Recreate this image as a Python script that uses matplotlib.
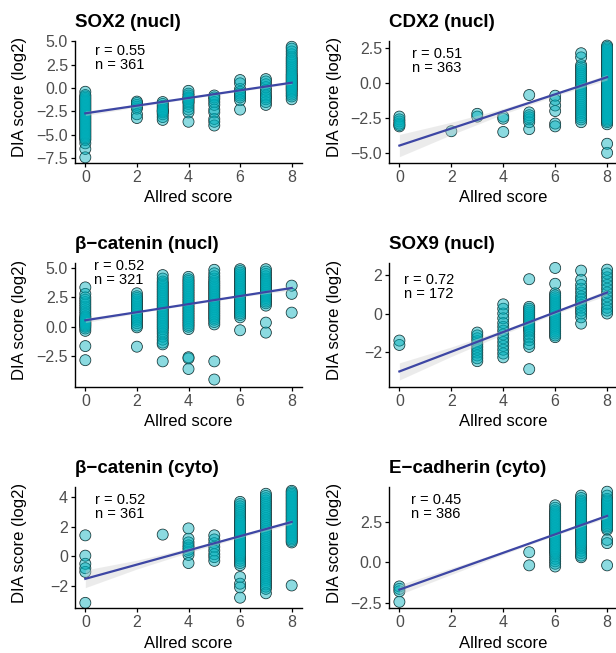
import numpy as np
import matplotlib
matplotlib.use("Agg")
import matplotlib.pyplot as plt

plt.rcParams['font.family'] = ['Liberation Sans', 'DejaVu Sans']

# ---- data (Allred score -> DIA score log2) ----
sox2_pts = {
    0: [-0.4, -0.75, -0.9, -1.05, -1.2, -1.35, -1.5, -1.65, -1.8, -1.95, -2.1, -2.25, -2.4,
        -2.55, -2.7, -2.85, -3.0, -3.15, -3.3, -3.45, -3.6, -3.75, -3.9, -4.05, -4.2, -4.35,
        -4.5, -4.65, -4.8, -4.95, -5.1, -5.25, -5.4, -5.55, -5.9, -6.5, -7.4],
    2: [-1.45, -1.6, -1.8, -2.0, -2.2, -2.8, -3.2],
    3: [-1.5, -1.7, -1.9, -2.1, -2.3, -2.4, -2.5, -2.6, -2.8, -3.1, -3.4],
    4: [-0.3, -0.6, -0.8, -1.0, -1.1, -1.2, -1.4, -1.5, -1.7, -2.0, -2.3, -2.6, -3.6],
    5: [-0.8, -1.0, -1.2, -1.5, -1.8, -2.3, -2.6, -3.3, -3.6, -4.0],
    6: [0.85, 0.5, -0.1, -0.4, -0.6, -0.8, -1.0, -1.3, -2.3],
    7: [0.95, 0.7, 0.4, 0.1, -0.2, -0.5, -0.8, -1.0, -1.2, -1.5, -1.8],
    8: [4.4, 4.2, 3.9, 3.6, 3.3, 3.1, 2.9, 2.7, 2.5, 2.3, 2.1, 1.9, 1.7, 1.5, 1.35, 1.2,
        1.05, 0.9, 0.75, 0.6, 0.45, 0.3, 0.15, 0.0, -0.15, -0.3, -0.5, -0.7, -0.9, -1.2],
}
cdx2_pts = {
    0: [-2.4, -2.6, -2.75, -2.9, -3.0, -3.1],
    2: [-3.45],
    3: [-2.2, -2.4],
    4: [-2.4, -2.55, -3.5],
    5: [-0.85, -2.1, -2.3, -2.45, -2.6, -2.8, -3.3],
    6: [-0.9, -1.2, -1.6, -2.0, -2.9, -3.1],
    7: [2.15, 1.85, 1.3, 1.15, 1.0, 0.85, 0.7, 0.55, 0.4, 0.25, 0.1, -0.05, -0.2, -0.35,
        -0.5, -0.65, -0.8, -0.95, -1.1, -1.25, -1.4, -1.55, -1.7, -1.85, -2.0, -2.15, -2.3,
        -2.45, -2.6, -2.8],
    8: [2.7, 2.6, 2.5, 2.4, 2.3, 2.2, 2.1, 2.0, 1.9, 1.8, 1.7, 1.6, 1.5, 1.4, 1.3, 1.2,
        1.1, 1.0, 0.9, 0.8, 0.7, 0.6, 0.5, 0.4, 0.3, 0.2, 0.1, 0.0, -0.1, -0.2, -0.3, -0.4,
        -0.5, -0.6, -0.7, -0.8, -0.9, -1.0, -1.1, -1.2, -1.3, -1.4, -1.5, -1.6, -1.7, -1.8,
        -1.9, -2.0, -2.1, -2.2, -2.3, -2.4, -2.5, -2.6, -2.7, -2.8, -2.95, -4.35, -5.0],
}
bcat_nucl_pts = {
    0: [3.35, 2.8, 2.5, 2.3, 2.1, 1.9, 1.7, 1.5, 1.3, 1.1, 0.9, 0.8, 0.7, 0.6, 0.5, 0.4,
        0.3, 0.2, 0.1, 0.0, -0.15, -0.35, -1.65, -2.85],
    2: [2.85, 2.6, 2.45, 2.3, 2.15, 2.0, 1.85, 1.7, 1.55, 1.4, 1.25, 1.1, 0.95, 0.8, 0.65,
        0.5, 0.3, 0.1, -0.05, -1.7],
    3: [4.4, 4.1, 3.85, 3.7, 3.55, 3.4, 3.25, 3.1, 2.95, 2.8, 2.65, 2.5, 2.35, 2.2, 2.05,
        1.9, 1.75, 1.6, 1.45, 1.3, 1.15, 1.0, 0.85, 0.7, 0.55, 0.4, 0.25, 0.1, -0.05, -0.2,
        -0.4, -0.6, -0.85, -1.1, -1.35, -1.5, -2.95],
    4: [4.25, 4.05, 3.9, 3.75, 3.6, 3.45, 3.3, 3.15, 3.0, 2.85, 2.7, 2.55, 2.4, 2.25, 2.1,
        1.95, 1.8, 1.65, 1.5, 1.35, 1.2, 1.05, 0.9, 0.75, 0.6, 0.45, 0.3, 0.15, 0.0, -0.2,
        -2.6, -2.7, -3.6],
    5: [4.85, 4.55, 4.3, 4.1, 3.9, 3.75, 3.6, 3.45, 3.3, 3.15, 3.0, 2.85, 2.7, 2.55, 2.4,
        2.25, 2.1, 1.95, 1.8, 1.65, 1.5, 1.35, 1.2, 1.05, 0.9, 0.75, 0.6, 0.4, 0.2, -2.95,
        -4.5],
    6: [4.9, 4.75, 4.6, 4.45, 4.3, 4.15, 4.0, 3.85, 3.7, 3.55, 3.4, 3.25, 3.1, 2.95, 2.8,
        2.65, 2.5, 2.35, 2.2, 2.05, 1.9, 1.75, 1.6, 1.45, 1.3, 1.15, 1.0, 0.8, -0.3],
    7: [4.9, 4.7, 4.5, 4.3, 4.1, 3.95, 3.8, 3.65, 3.5, 3.35, 3.2, 3.05, 2.9, 2.75, 2.6,
        2.45, 2.3, 2.15, 2.0, 1.8, 0.35, -0.5],
    8: [3.5, 2.8, 1.2],
}
sox9_pts = {
    0: [-1.42, -1.65],
    3: [-1.0, -1.15, -1.3, -1.45, -1.6, -1.75, -1.9, -2.05, -2.2, -2.35, -2.5],
    4: [0.48, 0.25, 0.0, -0.25, -0.5, -0.7, -0.9, -1.1, -1.3, -1.5, -1.7, -1.9, -2.1, -2.3],
    5: [1.8, 0.35, 0.25, 0.15, 0.05, -0.05, -0.15, -0.25, -0.35, -0.45, -0.55, -0.65, -0.75,
        -0.85, -0.95, -1.1, -1.25, -1.4, -1.6, -1.75, -2.92],
    6: [2.39, 1.56, 1.06, 0.95, 0.85, 0.75, 0.65, 0.55, 0.45, 0.35, 0.25, 0.15, 0.05, -0.05,
        -0.15, -0.25, -0.35, -0.45, -0.55, -0.65, -0.75, -0.85, -0.95, -1.05, -1.15, -1.24],
    7: [2.25, 1.77, 1.5, 1.3, 1.1, 0.9, 0.75, 0.6, 0.45, 0.3, 0.15, 0.0, -0.2, -0.53],
    8: [2.3, 2.1, 1.9, 1.7, 1.5, 1.3, 1.1, 0.9, 0.7, 0.5, 0.3, 0.15, 0.0],
}
bcat_cyto_pts = {
    0: [1.43, 0.05, -0.5, -0.8, -1.05, -3.15],
    3: [1.48],
    4: [1.9, 1.2, 0.95, 0.75, 0.6, 0.45, 0.3, 0.1, -0.45],
    5: [1.43, 1.15, 0.9, 0.65, 0.4, 0.15, -0.05, -0.3],
    6: [3.7, 3.55, 3.4, 3.25, 3.1, 2.95, 2.8, 2.65, 2.5, 2.4, 2.3, 2.2, 2.1, 2.0, 1.9, 1.8,
        1.7, 1.6, 1.5, 1.4, 1.3, 1.2, 1.1, 1.0, 0.9, 0.8, 0.7, 0.6, 0.5, 0.4, 0.3, 0.2, 0.1,
        0.0, -0.15, -0.3, -0.45, -0.6, -1.4, -1.85, -2.1, -2.8],
    7: [4.25, 4.1, 3.95, 3.8, 3.65, 3.5, 3.35, 3.2, 3.05, 2.9, 2.75, 2.6, 2.45, 2.3, 2.15,
        2.0, 1.85, 1.7, 1.55, 1.4, 1.25, 1.1, 0.95, 0.8, 0.65, 0.5, 0.35, 0.2, 0.05, -0.1,
        -0.25, -0.4, -0.55, -0.7, -0.85, -1.0, -1.15, -1.3, -1.45, -1.6, -1.75, -1.9, -2.05,
        -2.2, -2.5],
    8: [4.45, 4.35, 4.25, 4.15, 4.05, 3.95, 3.85, 3.75, 3.65, 3.55, 3.45, 3.35, 3.25, 3.15,
        3.05, 2.95, 2.85, 2.75, 2.65, 2.55, 2.45, 2.35, 2.25, 2.15, 2.05, 1.95, 1.85, 1.75,
        1.65, 1.55, 1.45, 1.35, 1.25, 1.15, 1.05, 0.95, -1.97],
}
ecad_pts = {
    0: [-1.5, -1.65, -1.8, -2.45],
    5: [0.61, -0.2],
    6: [3.5, 3.35, 3.2, 3.1, 3.0, 2.9, 2.8, 2.7, 2.6, 2.5, 2.4, 2.3, 2.2, 2.1, 2.0, 1.9,
        1.8, 1.7, 1.6, 1.5, 1.4, 1.3, 1.2, 1.1, 1.0, 0.9, 0.8, 0.7, 0.6, 0.5, 0.35, 0.2,
        0.05, -0.1, -0.27],
    7: [4.1, 3.95, 3.8, 3.7, 3.6, 3.5, 3.4, 3.3, 3.2, 3.1, 3.0, 2.9, 2.8, 2.7, 2.6, 2.5,
        2.4, 2.3, 2.2, 2.1, 2.0, 1.9, 1.8, 1.7, 1.6, 1.5, 1.4, 1.3, 1.2, 1.1, 1.0, 0.85,
        0.7, 0.55, 0.4, 0.3],
    8: [4.34, 4.1, 3.9, 3.8, 3.7, 3.6, 3.5, 3.4, 3.3, 3.2, 3.1, 3.0, 2.9, 2.8, 2.7, 2.6,
        2.5, 2.4, 2.3, 2.2, 2.1, 2.0, 1.37, 1.17, -0.2],
}

titles = ['SOX2 (nucl)', 'CDX2 (nucl)', 'β\u2212catenin (nucl)', 'SOX9 (nucl)',
          'β\u2212catenin (cyto)', 'E\u2212cadherin (cyto)']
r_values = ['0.55', '0.51', '0.52', '0.72', '0.52', '0.45']
n_values = ['361', '363', '321', '172', '361', '386']
# linear fit read at Allred 0 and 8, and CI half-width at Allred 0, 2, 4, 6, 8
fit_ends = [[-2.7, 0.57], [-4.48, 0.43], [0.55, 3.3], [-3.04, 1.1], [-1.52, 2.34], [-1.7, 2.85]]
band_x = [0, 2, 4, 6, 8]
band_half = [[0.25, 0.15, 0.1, 0.1, 0.15], [0.8, 0.45, 0.2, 0.12, 0.2],
             [0.2, 0.1, 0.07, 0.08, 0.2], [0.45, 0.25, 0.12, 0.08, 0.15],
             [0.6, 0.3, 0.15, 0.1, 0.15], [0.3, 0.2, 0.1, 0.07, 0.12]]
yticks = [[-7.5, -5.0, -2.5, 0.0, 2.5, 5.0], [-5.0, -2.5, 0.0, 2.5], [-2.5, 0.0, 2.5, 5.0],
          [-2, 0, 2], [-2, 0, 2, 4], [-2.5, 0.0, 2.5]]
xticks = [0, 2, 4, 6, 8]
all_pts = [sox2_pts, cdx2_pts, bcat_nucl_pts, sox9_pts, bcat_cyto_pts, ecad_pts]

# ---- layout (pixels of the 616x653 picture) ----
W, H = 616, 653
ylims = [(-7.97, 5.05), (-5.71, 3.05), (-5.11, 5.43), (-3.84, 2.65), (-3.5, 4.73), (-2.83, 4.65)]
col_left = [75, 389]
col_width = [227, 228.5]
row_top = [40.7, 263, 486.7]
row_bot = [162.7, 386.7, 608]
ann_pos = [(0.088, 0.975), (0.1, 0.95), (0.085, 1.03), (0.065, 0.92), (0.088, 0.945), (0.095, 0.945)]

fig = plt.figure(figsize=(W / 100, H / 100), dpi=100)

for i in range(6):
    r, c = divmod(i, 2)
    h = row_bot[r] - row_top[r]
    ax = fig.add_axes([col_left[c] / W, 1 - row_bot[r] / H, col_width[c] / W, h / H])
    pts = all_pts[i]
    xs = np.concatenate([[k] * len(v) for k, v in pts.items()])
    ys = np.concatenate([v for v in pts.values()])

    fx = np.array([0, 8])
    fy = np.array(fit_ends[i])
    bx = np.array(band_x)
    by = np.interp(bx, fx, fy)
    bh = np.array(band_half[i])

    # outlines first, then translucent fills on top (dense stacks read as solid)
    ax.scatter(xs, ys, s=62, facecolors='none', edgecolors='#1e1e1e',
               linewidths=0.6, zorder=2, clip_on=False)
    ax.scatter(xs, ys, s=62, facecolors=(0, 175 / 255, 187 / 255, 0.45),
               edgecolors='none', linewidths=0, zorder=2.5, clip_on=False)
    ax.fill_between(bx, by - bh, by + bh, color='#cfcfcf', alpha=0.4, lw=0, zorder=3)
    ax.plot(fx, fy, color='#3d46a4', lw=1.6, zorder=4)

    ax.set_xlim(-0.4, 8.4)
    ax.set_ylim(*ylims[i])
    ax.set_xticks(xticks)
    ax.set_xticklabels([str(t) for t in xticks])
    ax.set_yticks(yticks[i])
    if i in (3, 4):
        lab = [f'{t:d}' for t in yticks[i]]
    else:
        lab = [f'{t:.1f}' for t in yticks[i]]
    ax.set_yticklabels([s.replace('-', '\u2212') for s in lab])

    for side in ('top', 'right'):
        ax.spines[side].set_visible(False)
    for side in ('left', 'bottom'):
        ax.spines[side].set_linewidth(1.0)
        ax.spines[side].set_color('black')
    ax.tick_params(length=3, width=0.9, color='black', labelcolor='#4d4d4d',
                   labelsize=11.5, pad=2)

    ax.set_xlabel('Allred score', fontsize=12)
    ax.set_ylabel('DIA score (log2)', fontsize=12)
    ax.xaxis.set_label_coords(0.5, -35 / h)
    ax.xaxis.label.set_va('center')
    ylab_x = [20, 335][c]
    ax.yaxis.set_label_coords((ylab_x - col_left[c]) / col_width[c], 0.54)
    ax.yaxis.label.set_va('center')

    ax.set_title(titles[i], loc='left', fontsize=13.5, fontweight='bold', pad=10)
    ax.text(ann_pos[i][0], ann_pos[i][1], f'r = {r_values[i]}\nn = {n_values[i]}',
            transform=ax.transAxes, ha='left', va='top', fontsize=10.5, linespacing=1.0)

fig.savefig('out.png', dpi=100)
